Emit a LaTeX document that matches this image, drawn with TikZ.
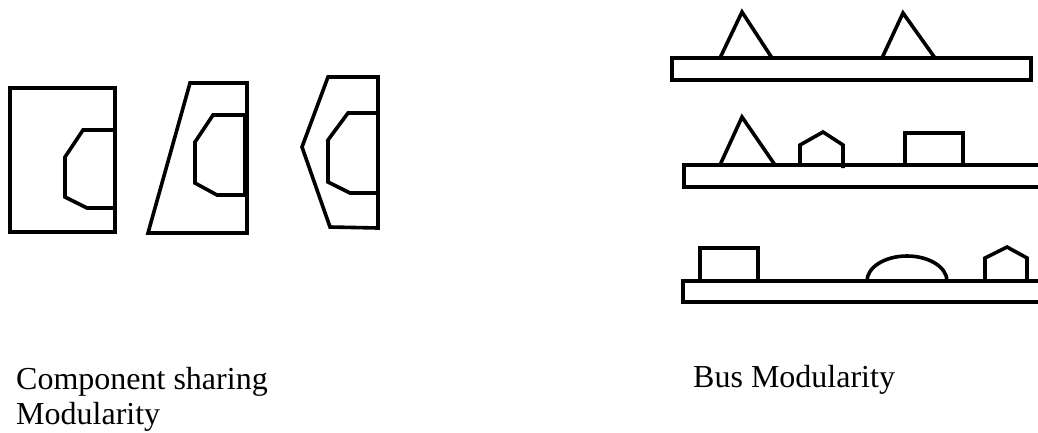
\documentclass[tikz,border=0pt]{standalone}
\usepackage{fontspec}
\setmainfont{Liberation Serif}
\usetikzlibrary{positioning}

\begin{document}
\begin{tikzpicture}[x=1pt, y=-1pt, line join=miter,
    part/.style={line width=3.6pt, black},
    caption/.style={font=\fontsize{32}{35}\selectfont, inner sep=0pt}]
  \useasboundingbox (0,0) rectangle (1038,432);

  % Component sharing: rectangular body with shared component
  \draw[part] (10,88) rectangle (115,232);
  \draw[part] (115,130) -- (83,130) -- (65,157) -- (65,197) -- (87,208) -- (115,208);

  % Trapezoid body, same component
  \draw[part] (190,83) -- (247,83) -- (247,233) -- (148,233) -- cycle;
  \draw[part] (245,115) -- (213,115) -- (195,142) -- (195,183) -- (217,195) -- (245,195) -- cycle;

  % Pointed body, same component
  \draw[part] (328,77) -- (378,77) -- (378,228) -- (330,227) -- (302,147) -- cycle;
  \draw[part] (378,113) -- (348,113) -- (328,140) -- (328,182) -- (350,193) -- (378,193);

  % Bus 1: two triangles
  \draw[part] (672,58) rectangle (1031,80);
  \draw[part] (720,58) -- (742,12) -- (772,58);
  \draw[part] (882,58) -- (903,13) -- (935,58);

  % Bus 2: triangle, house, box
  \draw[part] (684,165) rectangle (1050,187);
  \draw[part] (720,165) -- (742,117) -- (775,165);
  \draw[part] (800,166) -- (800,145) -- (823,132) -- (843,145) -- (843,168);
  \draw[part] (905,165) -- (905,133) -- (963,133) -- (963,165);

  % Bus 3: box, dome, house
  \draw[part] (683,281) rectangle (1050,302);
  \draw[part] (700,281) -- (700,248) -- (758,248) -- (758,281);
  \draw[part] (867,281) arc[start angle=180, end angle=0, x radius=40, y radius=-25];
  \draw[part] (985,281) -- (985,258) -- (1007,247) -- (1027,258) -- (1027,282);

  % Captions
  \node[caption, anchor=base west] (comp) at (16,389) {Component sharing};
  \node[caption, anchor=base west] (compmod) at (16,424) {Modularity};
  \node[caption, anchor=base west] (bus) at (693,387) {Bus Modularity};
\end{tikzpicture}
\end{document}
